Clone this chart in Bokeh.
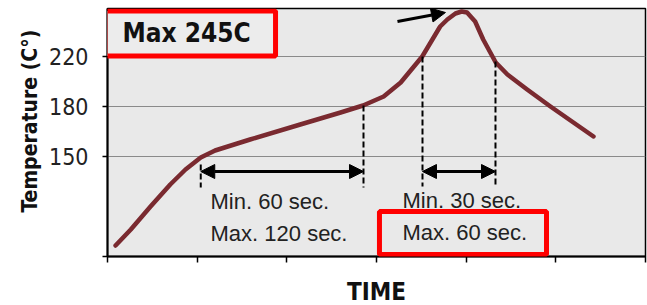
from bokeh.plotting import figure
from bokeh.embed import file_html
from bokeh.resources import INLINE
from bokeh.models import (ColumnDataSource, BoxAnnotation, Arrow, NormalHead,
                          FixedTicker, Label, Title)
from bokeh.core.properties import value

# ---- data (x in time-tick units, y in temperature-grid units) ----
time_x = [0.09, 0.26, 0.48, 0.70, 0.87, 1.04, 1.20, 1.59, 2.15, 2.60, 2.85,
          3.08, 3.27, 3.51, 3.71, 3.79, 3.88, 3.95, 4.01, 4.10, 4.19, 4.33,
          4.46, 4.68, 4.94, 5.42]
temp_y = [0.22, 0.54, 1.00, 1.44, 1.74, 1.98, 2.12, 2.34, 2.64, 2.88, 3.02,
          3.20, 3.48, 4.00, 4.60, 4.74, 4.86, 4.90, 4.88, 4.70, 4.34, 3.88,
          3.64, 3.34, 3.00, 2.40]
y_tick_pos = [0, 2, 3, 4]
y_tick_labels = ["", "150", "180", "220"]
x_tick_pos = [0, 1, 2, 3, 4, 5, 6]

# marker lines (time positions of the zone boundaries)
zone_x = [1.04, 2.855, 3.513, 4.327]
zone_top = [1.84, 3.02, 4.00, 3.90]
zone_bottom = [1.38, 1.38, 1.40, 1.40]

notes_x = [1.149, 1.149, 3.29, 3.29]
notes_y = [1.10, 0.46, 1.12, 0.48]
notes_text = ["Min. 60 sec.", "Max. 120 sec.", "Min. 30 sec.", "Max. 60 sec."]

NARROW = "DejaVu Sans Condensed, Liberation Sans"

p = figure(width=647, height=305, frame_width=538, frame_height=248,
           x_range=(0, 6), y_range=(0, 4.96),
           output_backend="svg", toolbar_location=None,
           min_border_left=107, min_border_right=2, min_border_top=8,
           min_border_bottom=49)
p.background_fill_color = "#e9e9e9"
p.border_fill_color = "white"
p.outline_line_color = "black"
p.outline_line_width = 1.5

p.xgrid.visible = False
p.ygrid.ticker = FixedTicker(ticks=[2, 3, 4])
p.ygrid.grid_line_color = "#8a8a8a"
p.ygrid.grid_line_width = 1.2

# y axis
p.yaxis.ticker = FixedTicker(ticks=y_tick_pos)
p.yaxis.major_label_overrides = {t: l for t, l in zip(y_tick_pos, y_tick_labels)}
p.yaxis.minor_tick_line_color = None
p.yaxis.major_tick_out = 5
p.yaxis.major_tick_in = 0
p.yaxis.axis_line_width = 2
p.yaxis.axis_line_color = "black"
p.yaxis.major_tick_line_color = "black"
p.yaxis.major_tick_line_width = 1.5
p.yaxis.major_label_text_font = NARROW
p.yaxis.major_label_text_font_size = "23px"
p.yaxis.major_label_text_color = "#222222"
p.yaxis.major_label_standoff = 14

# y axis title, starting a little above the bottom like in the reference
p.add_layout(Title(text="Temperature (C°)", align="left", offset=44,
                   text_font=NARROW, text_font_style="bold",
                   text_font_size="21px", text_color="#111111",
                   standoff=9), "left")

# x axis
p.xaxis.ticker = FixedTicker(ticks=x_tick_pos)
p.xaxis.major_label_overrides = {t: "" for t in x_tick_pos}
p.xaxis.minor_tick_line_color = None
p.xaxis.major_tick_out = 6
p.xaxis.major_tick_in = 0
p.xaxis.axis_line_width = 2
p.xaxis.axis_line_color = "black"
p.xaxis.major_tick_line_color = "black"
p.xaxis.major_tick_line_width = 1.5
p.xaxis.major_label_text_font_size = "1px"
p.xaxis.major_label_standoff = 0
p.xaxis.axis_label = "TIME"
p.xaxis.axis_label_text_font = NARROW
p.xaxis.axis_label_text_font_style = "bold"
p.xaxis.axis_label_text_font_size = "24px"
p.xaxis.axis_label_text_color = "#111111"
p.xaxis.axis_label_standoff = 15

# reflow curve
p.line(time_x, temp_y, line_color="#7a2a30", line_width=4.5,
       line_join="round", line_cap="round")

# dashed zone markers
p.segment(x0=zone_x, y0=zone_top, x1=zone_x, y1=zone_bottom,
          line_color="black", line_width=2, line_dash="6 3")

# double arrows
for xa, xb in [(zone_x[0], zone_x[1]), (zone_x[2], zone_x[3])]:
    p.add_layout(Arrow(x_start=xa, y_start=1.70, x_end=xb, y_end=1.70,
                       line_color="black", line_width=3,
                       start=NormalHead(size=14, fill_color="black", line_color="black"),
                       end=NormalHead(size=14, fill_color="black", line_color="black")))

# peak pointer
p.add_layout(Arrow(x_start=3.234, y_start=4.70, x_end=3.769, y_end=4.88,
                   line_color="black", line_width=3,
                   end=NormalHead(size=14, fill_color="black", line_color="black")))

# notes
src = ColumnDataSource(dict(x=notes_x, y=notes_y, t=notes_text))
p.text(x="x", y="y", text="t", source=src, text_font=value("Liberation Sans"),
       text_font_size="22px", text_color="#222222", text_baseline="alphabetic",
       text_align="left")

# red highlight boxes
p.add_layout(BoxAnnotation(left=-0.025, right=1.874, top=4.91, bottom=4.01,
                           fill_color="#ececec", fill_alpha=1.0,
                           line_color="#ff0000", line_width=5, line_alpha=1.0))
p.add_layout(BoxAnnotation(left=3.033, right=4.896, top=0.90, bottom=0.04,
                           fill_alpha=0.0, line_color="#ff0000", line_width=5,
                           line_alpha=1.0))
p.add_layout(Label(x=0.167, y=4.48, text="Max 245C", text_font=NARROW,
                   text_font_style="bold", text_font_size="26px",
                   text_color="#111111", text_baseline="alphabetic"))

open("out.html", "w").write(file_html(p, INLINE))
